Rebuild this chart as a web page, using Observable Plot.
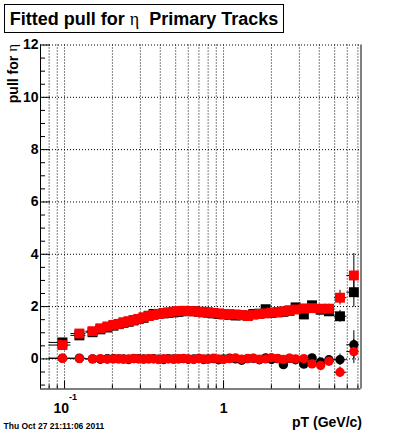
<!DOCTYPE html>
<html><head><meta charset="utf-8">
<script src="https://cdn.jsdelivr.net/npm/d3@7"></script>
<script src="https://cdn.jsdelivr.net/npm/@observablehq/plot@0.6"></script>
<style>
body{margin:0;background:#fff;}
#wrap{position:relative;width:400px;height:433px;overflow:hidden;background:#fff;}
#wrap svg{position:absolute;left:0;top:0;}
#title{position:absolute;left:4px;top:4px;width:278px;height:27px;border:1px solid #000;font:bold 18px "Liberation Sans",Arial,sans-serif;line-height:28px;text-align:center;white-space:nowrap;background:#fff;}
#title .g{font-weight:normal;font-family:"Liberation Serif","DejaVu Serif",serif;}
</style></head>
<body><div id="wrap"><div id="title">Fitted pull for <span class="g">η</span>&nbsp; Primary Tracks</div>
<svg id="ylab" width="400" height="433" style="pointer-events:none"><text transform="translate(14,44) rotate(-90)" text-anchor="end" dominant-baseline="middle" font-family="Liberation Sans, Arial, sans-serif" font-weight="bold" font-size="14">pull for <tspan font-family="Liberation Serif, serif" font-weight="normal" font-size="15">η</tspan></text></svg>
</div>
<script>
// bin centres (pT, GeV/c)
const pT = [0.097, 0.124, 0.15, 0.168, 0.186, 0.203, 0.219, 0.235, 0.253, 0.272,
  0.292, 0.314, 0.338, 0.363, 0.39, 0.42, 0.45, 0.485, 0.52, 0.56,
  0.60, 0.65, 0.70, 0.75, 0.80, 0.865, 0.93, 1.0, 1.09, 1.19,
  1.30, 1.42, 1.54, 1.68, 1.84, 2.0, 2.19, 2.38, 2.6, 2.84,
  3.2, 3.6, 4.08, 4.6, 5.4, 6.6];
// red squares (width of pull)
const redSq = [0.53, 0.97, 1.06, 1.17, 1.24, 1.30, 1.34, 1.40, 1.44, 1.49,
  1.53, 1.59, 1.64, 1.68, 1.72, 1.75, 1.78, 1.81, 1.83, 1.84,
  1.83, 1.82, 1.80, 1.80, 1.78, 1.76, 1.74, 1.72, 1.71, 1.70,
  1.68, 1.64, 1.69, 1.72, 1.74, 1.77, 1.79, 1.82, 1.86, 1.89,
  1.93, 1.94, 1.92, 1.92, 2.34, 3.19];
const redSqErr = [0.08, 0.05, 0.04, 0.04, 0.03, 0.03, 0.03, 0.03, 0.03, 0.03,
  0.03, 0.03, 0.03, 0.03, 0.03, 0.03, 0.03, 0.03, 0.03, 0.03,
  0.03, 0.03, 0.03, 0.03, 0.03, 0.04, 0.04, 0.04, 0.04, 0.04,
  0.05, 0.05, 0.05, 0.06, 0.06, 0.07, 0.07, 0.08, 0.09, 0.10,
  0.10, 0.12, 0.14, 0.17, 0.28, 0.84];
// black squares
const blackSq = [0.63, 0.90, 1.02, 1.13, 1.20, 1.27, 1.33, 1.38, 1.42, 1.47,
  1.52, 1.57, 1.65, 1.72, 1.72, 1.74, 1.76, 1.78, 1.80, 1.82,
  1.83, 1.82, 1.80, 1.78, 1.77, 1.74, 1.72, 1.70, 1.69, 1.66,
  1.67, 1.66, 1.72, 1.73, 1.90, 1.76, 1.78, 1.80, 1.84, 1.97,
  1.70, 2.05, 1.88, 1.82, 1.63, 2.55];
const blackSqErr = [0.08, 0.05, 0.04, 0.04, 0.03, 0.03, 0.03, 0.03, 0.03, 0.03,
  0.03, 0.03, 0.03, 0.03, 0.03, 0.03, 0.03, 0.03, 0.03, 0.03,
  0.03, 0.03, 0.03, 0.03, 0.03, 0.04, 0.04, 0.04, 0.04, 0.04,
  0.05, 0.05, 0.05, 0.06, 0.06, 0.07, 0.07, 0.08, 0.09, 0.10,
  0.10, 0.12, 0.14, 0.17, 0.23, 0.57];
// red circles (mean of pull)
const redCirc = [0.02, 0.01, 0.00, 0.01, -0.01, 0.00, 0.01, -0.01, 0.00, 0.02,
  0.00, -0.01, 0.01, 0.00, -0.02, 0.01, 0.00, -0.01, 0.01, 0.02,
  0.00, -0.02, 0.01, 0.00, -0.01, 0.03, 0.00, -0.02, 0.01, 0.04,
  -0.01, 0.02, 0.03, -0.01, 0.00, 0.05, 0.02, -0.02, 0.03, 0.00,
  0.01, -0.19, -0.25, -0.09, -0.51, 0.28];
const redCircErr = [0.06, 0.04, 0.03, 0.03, 0.03, 0.03, 0.03, 0.03, 0.03, 0.03,
  0.03, 0.03, 0.03, 0.03, 0.03, 0.03, 0.03, 0.03, 0.03, 0.03,
  0.03, 0.03, 0.03, 0.03, 0.03, 0.03, 0.03, 0.04, 0.04, 0.04,
  0.04, 0.04, 0.05, 0.05, 0.05, 0.06, 0.06, 0.07, 0.08, 0.08,
  0.09, 0.10, 0.12, 0.14, 0.20, 0.46];
// black circles
const blackCirc = [0.03, 0.03, 0.00, -0.01, 0.01, 0.01, 0.00, 0.00, -0.02, 0.01,
  0.01, 0.00, 0.00, 0.01, -0.01, -0.02, 0.01, 0.00, 0.00, 0.01,
  -0.01, 0.00, 0.02, -0.02, 0.00, 0.01, -0.03, 0.00, 0.03, 0.00,
  -0.05, 0.01, 0.02, -0.03, 0.04, -0.02, 0.01, -0.22, 0.02, -0.03,
  -0.20, 0.04, -0.12, -0.03, -0.03, 0.54];
const blackCircErr = [0.06, 0.04, 0.03, 0.03, 0.03, 0.03, 0.03, 0.03, 0.03, 0.03,
  0.03, 0.03, 0.03, 0.03, 0.03, 0.03, 0.03, 0.03, 0.03, 0.03,
  0.03, 0.03, 0.03, 0.03, 0.03, 0.03, 0.03, 0.04, 0.04, 0.04,
  0.04, 0.04, 0.05, 0.05, 0.05, 0.06, 0.06, 0.07, 0.08, 0.08,
  0.09, 0.10, 0.12, 0.14, 0.22, 0.54];
const firstEdge = 0.08, lastEdge = 7.1;

// axis ticks
const xMajor = [0.1, 1];
const xMinor = [0.08, 0.09, 0.2, 0.3, 0.4, 0.5, 0.6, 0.7, 0.8, 0.9, 2, 3, 4, 5, 6, 7];
const yMajor = [0, 2, 4, 6, 8, 10, 12];
const yMinor = [-1, -0.5, 0.5, 1, 1.5, 2.5, 3, 3.5, 4.5, 5, 5.5, 6.5, 7, 7.5, 8.5, 9, 9.5, 10.5, 11, 11.5];
const xDomain = [0.0706, 7.32];
const yDomain = [-1.15, 12];

const rows = pT.map((x, i) => ({
  x,
  lo: i === 0 ? firstEdge : Math.sqrt(pT[i - 1] * x),
  hi: i === pT.length - 1 ? lastEdge : Math.sqrt(x * pT[i + 1]),
  rs: redSq[i], rse: redSqErr[i], bs: blackSq[i], bse: blackSqErr[i],
  rc: redCirc[i], rce: redCircErr[i], bc: blackCirc[i], bce: blackCircErr[i]
}));

function series(key, ekey, color, symbol, r) {
  return [
    Plot.ruleY(rows, {y: key, x1: "lo", x2: "hi", stroke: "black", strokeWidth: 1}),
    Plot.ruleX(rows, {x: "x", y1: d => d[key] - d[ekey], y2: d => d[key] + d[ekey], stroke: "black", strokeWidth: 1}),
    Plot.dot(rows, {x: "x", y: key, symbol, r, fill: color, stroke: "none"})
  ];
}

const font = '"Liberation Sans", Arial, Helvetica, sans-serif';
const chart = Plot.plot({
  width: 400, height: 433,
  marginLeft: 40, marginRight: 39.5, marginTop: 44.5, marginBottom: 44.5,
  style: {fontFamily: font, fontSize: "14px", fontWeight: "bold", background: "transparent", color: "black"},
  x: {type: "log", domain: xDomain},
  y: {domain: yDomain},
  marks: [
    Plot.gridX(xMajor.concat(xMinor), {stroke: "black", strokeOpacity: 1, strokeWidth: 1, strokeDasharray: "1,2"}),
    Plot.gridY(yMajor, {stroke: "black", strokeOpacity: 1, strokeWidth: 1, strokeDasharray: "1,2"}),
    Plot.ruleY([yDomain[0]], {stroke: "black", strokeWidth: 1}),
    Plot.ruleX([xDomain[0]], {stroke: "black", strokeWidth: 1}),
    Plot.ruleX([xDomain[1]], {stroke: "black", strokeWidth: 1}),
    Plot.axisX(xMajor, {anchor: "bottom", tickSize: -8, tickFormat: () => "", label: null}),
    Plot.axisX(xMinor, {anchor: "bottom", tickSize: -4, tickFormat: () => "", label: null}),
    Plot.axisY(yMajor, {anchor: "left", tickSize: -10, tickFormat: () => "", label: null}),
    Plot.axisY(yMinor, {anchor: "left", tickSize: -5, tickFormat: () => "", label: null}),
    Plot.axisY(yMajor, {anchor: "left", tickSize: 0, tickPadding: 2, label: null, fontSize: 14, fontWeight: "bold"}),
    // x tick labels
    Plot.text(["10"], {x: () => xMajor[0], frameAnchor: "bottom", textAnchor: "end", lineAnchor: "bottom", dx: 4.5, dy: 23.5, fontSize: 14, fontWeight: "bold"}),
    Plot.text(["-1"], {x: () => xMajor[0], frameAnchor: "bottom", textAnchor: "start", lineAnchor: "bottom", dx: 4.5, dy: 10.5, fontSize: 9, fontWeight: "bold"}),
    Plot.text(["1"], {x: () => xMajor[1], frameAnchor: "bottom", textAnchor: "middle", lineAnchor: "bottom", dy: 23.5, fontSize: 14, fontWeight: "bold"}),
    ...series("bs", "bse", "black", "square", 5.6),
    ...series("bc", "bce", "black", "circle", 4.7),
    ...series("rs", "rse", "#ff0000", "square", 5.6),
    ...series("rc", "rce", "#ff0000", "circle", 4.7),
    // axis titles
    Plot.text(["pT (GeV/c)"], {frameAnchor: "bottom-right", textAnchor: "end", lineAnchor: "bottom", dx: 1, dy: 38, fontSize: 14, fontWeight: "bold"}),
    Plot.text(["Thu Oct 27 21:11:06 2011"], {frameAnchor: "bottom-left", textAnchor: "start", lineAnchor: "bottom", dx: -37, dy: 40, fontSize: 8.5, fontWeight: "bold"})
  ]
});
document.getElementById("wrap").prepend(chart);
</script>
</body></html>
